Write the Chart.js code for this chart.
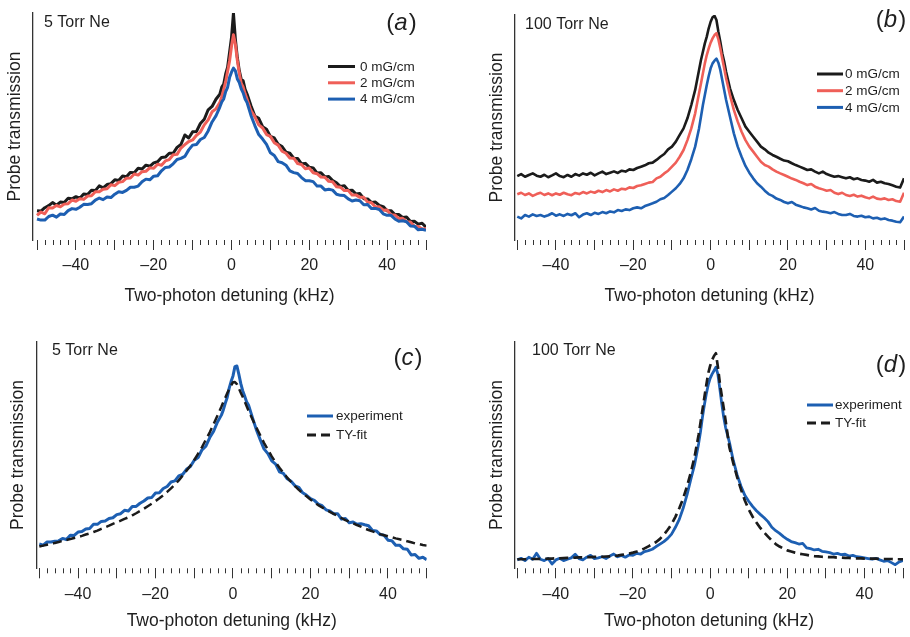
<!DOCTYPE html>
<html><head><meta charset="utf-8">
<script src="https://cdn.jsdelivr.net/npm/chart.js@4.4.1/dist/chart.umd.min.js"></script>
<style>
html,body{margin:0;padding:0;background:#fff;}
body{width:910px;height:637px;position:relative;overflow:hidden;}
canvas{position:absolute;}
</style></head><body>
<canvas id="ca" width="455" height="318" style="left:0;top:0"></canvas>
<canvas id="cb" width="455" height="318" style="left:455px;top:0"></canvas>
<canvas id="cc" width="455" height="319" style="left:0;top:318px"></canvas>
<canvas id="cd" width="455" height="319" style="left:455px;top:318px"></canvas>
<script>
// ---------- data ----------
const xKHz = [-50,-49,-48,-47,-46,-45,-44,-43,-42,-41,-40,-39,-38,-37,-36,-35,-34,-33,-32,-31,-30,-29,-28,-27,-26,-25,-24,-23,-22,-21,-20,-19,-18,-17,-16,-15,-14,-13,-12,-11,-10,-9,-8,-7,-6,-5,-4,
 -3,-2.5,-2,-1.5,-1,-0.5,0,0.5,1,1.5,2,2.5,3,3.5,4,
 5,6,7,8,9,10,11,12,13,14,15,16,17,18,19,20,21,22,23,24,25,26,27,28,29,30,31,32,33,34,35,36,37,38,39,40,41,42,43,44,45,46,47,48,49,50];

const tickValues = [-50,-48,-46,-44,-42,-40,-38,-36,-34,-32,-30,-28,-26,-24,-22,-20,-18,-16,-14,-12,-10,-8,-6,-4,-2,0,2,4,6,8,10,12,14,16,18,20,22,24,26,28,30,32,34,36,38,40,42,44,46,48,50];
const labeledTicks = [-40,-20,0,20,40];

// panel (a) 5 Torr Ne
const a_0mG = [12.3,12.1,13.6,14.5,15.9,14.7,16.1,15.9,17.8,17.6,18.5,17.8,19.7,19.5,21.4,21.2,23.3,22.4,23.9,24.3,26.0,25.7,27.7,27.4,29.3,29.1,31.1,30.8,32.5,32.0,33.5,34.0,35.9,36.1,37.8,37.8,40.4,41.7,45.9,44.6,47.3,47.5,51.0,52.9,57.1,58.6,61.8,
 64.0,67.2,68.5,73.0,76.0,82.6,89.2,100,88.4,80.3,74.5,70.6,70.0,66.2,64.1,
 58.9,54.3,53.3,49.6,48.5,45.3,44.6,41.8,40.8,38.3,37.8,35.6,35.5,33.1,33.3,31.6,31.3,29.0,29.1,27.3,27.5,25.7,24.7,23.0,23.4,21.3,21.4,19.7,19.9,17.6,17.5,15.9,16.1,14.6,14.1,12.2,12.3,10.6,10.6,9.3,9.5,7.5,7.6,6.3,6.7,5.0];
const a_2mG = [10.2,11.7,10.9,13.6,13.5,14.6,14.0,15.2,15.4,17.0,16.5,17.6,17.3,18.8,18.9,20.7,20.7,21.8,22.0,23.8,23.4,24.9,25.2,26.7,26.8,28.6,28.1,29.6,29.8,31.3,31.1,32.9,32.5,34.4,35.0,37.1,37.3,40.1,41.6,43.0,43.7,45.8,47.2,50.4,52.6,56.2,57.5,
 60.3,63.0,66.2,69.6,74.2,78.8,85.3,90.4,86.2,79.1,73.4,68.8,67.2,64.2,61.8,
 56.7,54.1,50.4,49.0,46.1,45.3,42.5,41.4,38.7,37.8,35.7,35.6,33.2,32.8,30.9,31.2,29.1,28.7,27.2,27.1,25.3,25.1,22.9,22.7,21.2,21.3,19.2,19.3,18.2,18.2,16.1,15.8,13.9,14.0,12.5,12.6,10.5,10.4,8.8,8.9,7.3,7.3,5.4,5.3,4.1,4.4];
const a_4mG = [8.6,8.1,8.1,9.7,10.3,9.4,10.8,10.6,12.3,13.2,12.9,13.8,15.1,15.0,15.4,17.0,17.9,17.2,18.4,18.1,19.6,20.7,20.4,21.3,22.7,22.7,23.2,25.1,26.3,26.0,27.6,27.8,30.0,31.5,31.7,33.1,35.0,35.5,36.4,39.3,41.4,41.7,43.9,44.8,47.7,51.7,54.4,
 58.3,60.6,61.9,65.2,67.1,71.4,73.8,75.6,74.4,70.8,69.2,66.4,64.6,61.9,60.3,
 54.6,50.1,46.1,44.1,41.7,38.0,36.8,34.1,33.6,32.5,30.0,29.2,28.8,27.0,25.6,25.6,25.2,23.2,23.2,21.5,21.8,21.4,19.6,19.1,19.0,17.5,16.6,17.0,16.7,14.9,15.0,13.2,13.3,12.8,10.9,10.2,10.2,8.6,7.6,7.8,7.4,5.5,5.4,3.8,4.0,3.6];

// panel (b) 100 Torr Ne
const b_0mG = [28.4,29.3,28.1,28.9,29.6,28.6,28.1,29.0,27.9,28.7,29.6,28.4,27.9,28.9,28.1,29.3,28.6,29.6,29.0,29.9,28.7,29.6,30.4,29.3,29.9,30.5,29.8,30.8,30.4,31.4,31.1,32.0,32.6,33.2,34.1,34.4,35.6,37.0,38.2,40.3,41.5,43.7,46.7,49.6,54.1,60.0,66.7,
 75.6,80.0,83.7,87.4,90.4,94.1,97.0,99.0,99.6,97.8,92.6,88.1,83.0,79.3,74.8,
 67.4,62.2,57.8,54.1,50.4,48.1,45.9,43.7,41.5,40.3,38.8,37.8,37.0,36.1,35.3,35.0,34.1,33.3,32.6,31.9,31.1,31.4,30.4,29.6,30.4,29.3,28.7,28.1,28.4,27.9,27.4,27.9,27.0,27.4,26.7,26.4,25.9,26.7,25.5,25.9,25.2,24.9,24.3,23.7,23.3,27.4];
const b_2mG = [20.3,21.0,20.0,20.7,19.6,20.4,21.0,20.0,20.7,19.9,20.7,20.1,21.0,20.3,19.9,20.9,20.4,21.3,20.7,21.5,21.0,21.9,21.3,22.2,21.6,22.5,21.9,22.8,22.5,23.4,23.1,24.0,24.3,24.9,25.5,25.8,27.4,28.1,29.6,30.8,32.6,34.4,37.0,40.0,44.4,49.6,56.3,
 65.2,69.6,74.1,78.5,82.2,85.2,87.7,89.6,91.1,91.9,89.2,85.2,80.7,76.3,71.9,
 64.4,57.8,52.6,48.1,44.4,41.5,39.3,37.0,34.8,33.3,32.6,31.4,30.4,29.6,28.9,28.1,27.3,26.7,25.9,25.2,24.4,24.9,23.7,23.0,22.5,21.9,22.2,21.0,20.4,21.0,20.0,19.6,20.1,19.3,19.7,19.0,18.5,19.3,18.4,18.1,18.5,17.8,18.1,17.3,17.0,21.0];
const b_4mG = [10.4,9.6,11.1,10.4,11.4,10.7,11.1,10.4,11.0,11.9,10.8,11.4,10.7,11.6,11.0,11.9,10.1,11.3,11.9,11.1,12.1,11.6,12.4,11.9,12.7,12.3,13.3,12.9,13.6,13.3,14.1,14.5,14.1,15.1,15.7,16.3,17.0,18.1,18.7,20.0,21.5,23.0,24.9,27.4,31.1,35.9,41.5,
 49.6,54.8,60.0,64.4,68.9,72.9,76.3,78.5,79.7,80.6,78.8,75.6,71.1,66.7,62.2,
 54.8,47.4,41.5,37.0,32.9,29.9,27.4,25.2,23.7,21.9,20.4,19.6,18.4,17.8,16.9,16.3,16.9,15.7,15.1,14.5,14.1,13.6,14.2,13.0,12.6,12.3,11.9,12.4,11.6,11.1,11.1,11.6,10.7,10.4,10.8,10.1,10.4,9.6,9.9,9.2,9.6,8.9,8.6,8.1,7.9,10.4];

// panel (c) 5 Torr Ne, experiment vs fit
const c_exp = [10.7,10.2,11.6,11.6,11.9,12.1,13.2,12.7,14.6,14.5,16.0,16.2,17.3,17.6,19.4,19.4,20.7,20.9,22.0,22.3,23.7,24.1,25.6,25.3,27.3,27.3,28.7,29.7,31.0,31.2,33.2,33.3,35.2,36.1,38.1,38.6,40.8,41.4,43.7,44.9,47.7,48.9,52.3,53.9,57.7,60.5,64.6,
 67.6,69.9,72.8,75.4,79.4,82.4,84.9,89.0,89.3,85.7,81.6,78.4,76.0,73.5,72.1,
 66.6,61.3,56.9,52.7,50.6,47.4,46.0,42.6,41.9,39.5,38.4,36.4,35.7,33.3,32.2,30.7,30.0,28.3,27.6,25.8,25.3,24.1,24.1,21.7,22.0,20.1,20.4,19.4,19.7,19.2,18.8,16.7,16.5,14.9,14.6,12.4,12.2,10.2,10.2,8.6,8.4,5.9,6.1,4.4,4.9,3.8];
const c_fit = [9.6,10.0,10.4,10.7,11.2,11.6,12.1,12.5,12.9,13.4,13.8,14.3,14.9,15.4,16.0,16.6,17.4,18.1,18.8,19.6,20.3,21.0,21.8,22.5,23.4,24.3,25.3,26.3,27.4,28.5,29.7,30.9,32.2,33.7,35.3,36.9,38.8,40.9,43.1,45.3,47.8,50.6,53.5,56.8,60.0,63.7,67.4,
 71.3,73.4,75.3,77.2,79.1,80.7,82.1,82.2,81.3,79.4,77.5,75.7,73.7,71.6,69.6,
 65.9,62.2,58.8,55.4,52.4,49.4,46.8,44.4,42.2,40.0,38.1,36.3,34.6,33.1,31.8,30.4,29.1,27.9,26.9,25.9,24.9,24.0,23.1,22.2,21.3,20.6,19.9,19.1,18.4,17.6,16.9,16.3,15.7,15.1,14.6,14.1,13.7,13.2,12.8,12.4,11.9,11.5,11.0,10.7,10.3,10.0];

// panel (d) 100 Torr Ne, experiment vs fit
const d_exp = [3.7,4.4,3.4,4.9,4.0,6.6,4.0,3.4,4.3,1.9,3.7,4.4,3.4,4.0,4.6,6.2,4.3,3.7,4.9,5.7,4.3,4.6,5.1,4.3,5.4,6.3,5.1,5.7,4.9,5.9,5.7,6.6,6.3,7.4,7.8,8.4,9.6,10.7,11.8,13.2,15.1,18.1,21.6,26.5,32.4,39.3,46.0,
 54.9,60.3,66.6,72.1,76.9,80.9,83.8,85.7,87.2,88.7,85.7,79.4,72.8,66.9,62.2,
 55.6,47.6,41.2,36.2,32.2,29.6,27.3,25.4,23.8,22.3,20.6,18.1,16.6,15.4,14.0,12.8,11.8,11.3,10.7,11.0,9.0,8.7,8.1,8.4,7.5,7.2,6.9,6.3,6.6,6.0,6.2,5.4,5.7,5.1,4.9,4.6,4.3,4.0,4.4,3.7,3.1,3.4,2.5,1.6,2.8,3.4];
const d_fit = [4.0,4.0,4.0,4.1,4.1,4.1,4.2,4.2,4.3,4.3,4.4,4.4,4.5,4.6,4.6,4.7,4.8,4.8,4.9,4.9,5.0,5.1,5.1,5.2,5.3,5.4,5.6,5.9,6.2,6.5,6.9,7.4,8.0,8.8,9.7,10.6,11.6,13.0,14.8,17.0,19.5,22.7,26.5,30.8,36.2,42.3,49.5,
 58.8,64.3,69.8,75.4,80.8,86.0,89.3,91.9,93.7,94.9,89.0,82.0,76.3,70.9,65.3,
 53.3,46.4,40.2,34.8,29.9,26.0,22.8,20.2,17.8,15.8,14.0,12.2,10.7,9.6,8.7,7.9,7.4,6.9,6.5,6.2,5.9,5.6,5.4,5.3,5.1,5.0,4.9,4.9,4.7,4.7,4.6,4.6,4.4,4.4,4.4,4.3,4.3,4.3,4.3,4.1,4.1,4.1,4.1,4.0,4.0,4.0];

// ---------- styling ----------
const FONT = "'Liberation Sans', Arial, Helvetica, sans-serif";
Chart.defaults.font.family = FONT;
Chart.defaults.color = '#1f1f1f';
const BLACK = '#1b1b1b', RED = '#ef5f58', BLUE = '#1d5fb2';
const FIT_DASH = [9, 5];

const decor = {
  id: 'decor',
  afterDraw(chart, args, o) {
    const ctx = chart.ctx;
    ctx.save();
    ctx.fillStyle = '#1f1f1f';
    ctx.textAlign = 'left';
    ctx.textBaseline = 'alphabetic';
    ctx.font = '16px ' + FONT;
    ctx.fillText(o.note, o.noteX, o.noteY);
    // panel letter "(a)" with italic letter
    ctx.font = '24px ' + FONT;
    const wl = ctx.measureText('(').width, wr = ctx.measureText(')').width;
    ctx.font = 'italic 24px ' + FONT;
    const wm = ctx.measureText(o.letter).width;
    let x = o.letterCX - (wl + wm + wr) / 2;
    ctx.font = '24px ' + FONT; ctx.fillText('(', x, o.letterY); x += wl;
    ctx.font = 'italic 24px ' + FONT; ctx.fillText(o.letter, x, o.letterY); x += wm + 1;
    ctx.font = '24px ' + FONT; ctx.fillText(')', x, o.letterY);
    // legend
    ctx.font = '13.5px ' + FONT;
    ctx.textBaseline = 'middle';
    chart.data.datasets.forEach((ds, i) => {
      const y = o.legY + i * o.legDy;
      ctx.strokeStyle = ds.borderColor;
      ctx.lineWidth = 3;
      ctx.setLineDash(ds.borderDash || []);
      ctx.beginPath(); ctx.moveTo(o.legX1, y); ctx.lineTo(o.legX2, y); ctx.stroke();
      ctx.fillText(ds.label, o.legTX, y + 0.5);
    });
    // minor ticks
    const sc = chart.scales.x;
    ctx.setLineDash([]);
    ctx.strokeStyle = '#333';
    ctx.lineWidth = 1;
    sc.ticks.forEach(t => {
      if (t.value % 10 !== 0) {
        const px = Math.round(sc.getPixelForValue(t.value)) + 0.5;
        ctx.beginPath(); ctx.moveTo(px, sc.top); ctx.lineTo(px, sc.top + 5); ctx.stroke();
      }
    });
    ctx.restore();
  }
};

function makePanel(id, cfg) {
  return new Chart(document.getElementById(id), {
    type: 'line',
    data: {
      datasets: cfg.series.map(s => ({
        label: s.label,
        data: xKHz.map((x, i) => ({x: x, y: s.y[i]})),
        borderColor: s.color,
        borderWidth: s.width,
        borderDash: s.dash || [],
        order: s.order,
        pointRadius: 0,
        tension: 0,
        fill: false,
        borderJoinStyle: 'round'
      }))
    },
    options: {
      responsive: false,
      animation: false,
      devicePixelRatio: 1,
      layout: {padding: cfg.pad},
      plugins: {legend: {display: false}, tooltip: {enabled: false}, decor: cfg.decor},
      scales: {
        x: {
          type: 'linear', position: 'bottom', min: cfg.xmin, max: 50,
          afterBuildTicks: sc => { sc.ticks = tickValues.map(v => ({value: v})); },
          afterFit: sc => { sc.height = cfg.xh; },
          ticks: {
            autoSkip: false, maxRotation: 0, minRotation: 0, padding: cfg.tickPad,
            font: {size: 16}, color: '#1f1f1f',
            callback: v => labeledTicks.includes(v) ? (v < 0 ? '\u2013' + Math.abs(v) : String(v)) : ''
          },
          grid: {
            display: true, drawOnChartArea: false, drawTicks: true, tickLength: 10, tickWidth: 1,
            tickColor: c => (c.tick && c.tick.value % 10 === 0) ? '#333' : 'rgba(0,0,0,0)'
          },
          border: {display: false},
          title: {display: true, text: 'Two-photon detuning (kHz)', font: {size: 17.5}, color: '#1f1f1f',
                  padding: {top: 0, bottom: cfg.titlePad}}
        },
        y: {
          min: cfg.ymin, max: cfg.ymax,
          afterFit: sc => { sc.width = cfg.yw; },
          ticks: {display: false},
          grid: {display: false},
          border: {display: true, color: '#333', width: 1.3},
          title: {display: true, text: 'Probe transmission', font: {size: 17.5}, color: '#1f1f1f',
                  padding: {top: cfg.yTitlePad, bottom: 0}}
        }
      }
    },
    plugins: [decor]
  });
}

makePanel('ca', {
  series: [
    {label: '0 mG/cm', y: a_0mG, color: BLACK, width: 3, order: 3},
    {label: '2 mG/cm', y: a_2mG, color: RED, width: 3, order: 2},
    {label: '4 mG/cm', y: a_4mG, color: BLUE, width: 3, order: 1}
  ],
  pad: {left: 0, right: 29, top: 13, bottom: 0}, yw: 33, xh: 78,
  xmin: -51.03, ymin: -0.74, ymax: 100.1, tickPad: 6, titlePad: 11, yTitlePad: 5,
  decor: {note: '5 Torr Ne', noteX: 44, noteY: 27, letter: 'a', letterCX: 401, letterY: 30,
          legX1: 328, legX2: 355, legTX: 360, legY: 66.5, legDy: 16.3}
});
makePanel('cb', {
  series: [
    {label: '0 mG/cm', y: b_0mG, color: BLACK, width: 2.6, order: 3},
    {label: '2 mG/cm', y: b_2mG, color: RED, width: 2.6, order: 2},
    {label: '4 mG/cm', y: b_4mG, color: BLUE, width: 2.6, order: 1}
  ],
  pad: {left: 0, right: 3.3, top: 15, bottom: 0}, yw: 60, xh: 78,
  xmin: -50.59, ymin: 0, ymax: 100, tickPad: 6, titlePad: 11, yTitlePad: 32,
  decor: {note: '100 Torr Ne', noteX: 70, noteY: 28.5, letter: 'b', letterCX: 435.5, letterY: 27,
          legX1: 362, legX2: 388, legTX: 390, legY: 74, legDy: 16.7}
});
makePanel('cc', {
  series: [
    {label: 'experiment', y: c_exp, color: BLUE, width: 3, order: 2},
    {label: 'TY-fit', y: c_fit, color: BLACK, width: 2.5, dash: FIT_DASH, order: 1}
  ],
  pad: {left: 0, right: 28.3, top: 23.7, bottom: 0}, yw: 36.7, xh: 68.7,
  xmin: -50.67, ymin: 0, ymax: 100, tickPad: 7, titlePad: 5, yTitlePad: 8,
  decor: {note: '5 Torr Ne', noteX: 52, noteY: 37, letter: 'c', letterCX: 407.5, letterY: 47,
          legX1: 307, legX2: 333, legTX: 336, legY: 98, legDy: 19}
});
makePanel('cd', {
  series: [
    {label: 'experiment', y: d_exp, color: BLUE, width: 2.8, order: 2},
    {label: 'TY-fit', y: d_fit, color: BLACK, width: 2.7, dash: FIT_DASH, order: 1}
  ],
  pad: {left: 0, right: 3.3, top: 23.7, bottom: 0}, yw: 60, xh: 68.7,
  xmin: -50.59, ymin: 0, ymax: 100, tickPad: 7, titlePad: 5, yTitlePad: 32,
  decor: {note: '100 Torr Ne', noteX: 77, noteY: 37, letter: 'd', letterCX: 435.5, letterY: 53.5,
          legX1: 352, legX2: 378, legTX: 380, legY: 87, legDy: 18}
});
</script>
</body></html>
